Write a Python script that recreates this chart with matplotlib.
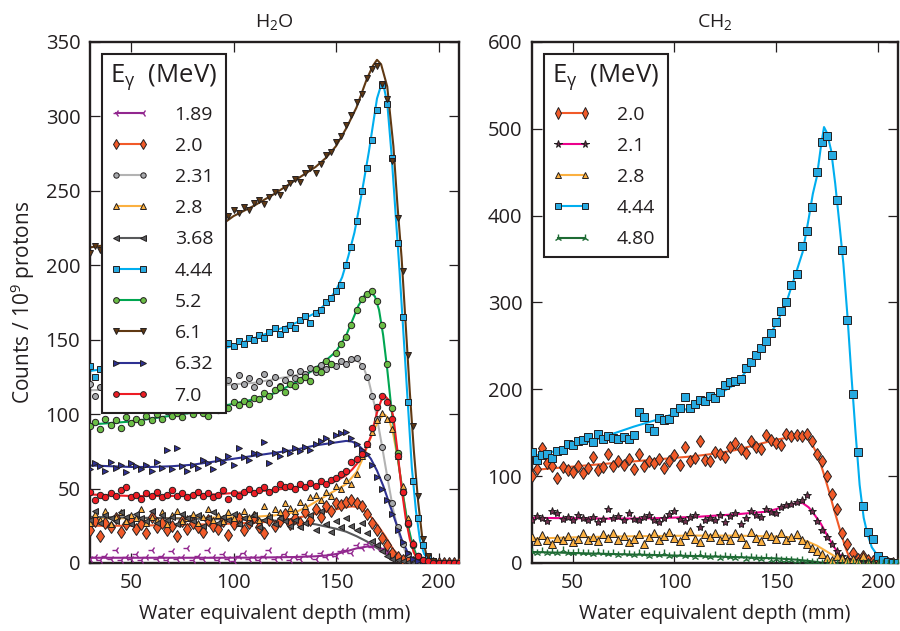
import matplotlib
matplotlib.use("Agg")
import matplotlib.pyplot as plt
from matplotlib.lines import Line2D
import numpy as np

plt.rcParams['font.family'] = ['Open Sans', 'DejaVu Sans']
plt.rcParams['mathtext.fontset'] = 'custom'
plt.rcParams['mathtext.rm'] = 'Open Sans'
plt.rcParams['mathtext.it'] = 'Open Sans'
plt.rcParams['mathtext.default'] = 'regular'

INK = '#231f20'

# Depth grid of the measured points (mm)
depth = np.arange(30, 210.1, 2.5)

# ---------------- H2O: measured counts per 10^9 protons ----------------
h2o_189 = [3, 4, 2, 5, 3, 9, 2, 4, 3, 6,
           2, 4, 9, 3, 5, 2, 8, 3, 4, 10,
           2, 5, 3, 9, 4, 2, 6, 3, 1, 5,
           7, 3, 4, 2, 5, 9, 3, 4, 6, 2,
           4, 3, 6, 5, 3, 7, 4, 6, 5, 8,
           9, 7, 12, 10, 13, 11, 12, 9, 7, 5,
           3, 2, 1, 0.5, 0, 0, 0, 0, 0, 0,
           0, 0, 0]
h2o_20 = [22, 28, 18, 27, 24, 30, 21, 26, 29, 23,
          26, 20, 31, 24, 27, 22, 25, 18, 28, 23,
          27, 24, 21, 29, 25, 23, 28, 19, 26, 30,
          22, 27, 31, 24, 20, 29, 25, 28, 33, 26,
          30, 27, 34, 29, 36, 31, 38, 35, 40, 39,
          41, 42, 40, 38, 33, 27, 22, 17, 12, 7,
          4, 2, 1, 0.5, 0, 0, 0, 0, 0, 0,
          0, 0, 0]
h2o_231 = [120, 112, 118, 123, 115, 119, 114, 121, 117, 124,
           113, 120, 116, 122, 118, 115, 121, 119, 124, 117,
           122, 116, 120, 125, 118, 121, 117, 123, 119, 126,
           120, 124, 118, 122, 127, 121, 125, 119, 123, 128,
           124, 129, 127, 131, 128, 133, 130, 134, 132, 136,
           134, 137, 138, 132, 125, 112, 97, 78, 58, 40,
           24, 13, 6, 2, 1, 0, 0, 0, 0, 0,
           0, 0, 0]
h2o_28 = [27, 33, 29, 35, 26, 31, 34, 28, 32, 30,
          36, 27, 31, 29, 34, 26, 32, 35, 28, 30,
          33, 27, 31, 36, 29, 32, 28, 34, 30, 27,
          35, 31, 33, 29, 38, 32, 36, 34, 40, 37,
          35, 41, 38, 44, 46, 42, 48, 45, 52, 50,
          56, 53, 60, 72, 80, 88, 96, 101, 97, 90,
          72, 52, 30, 14, 5, 1, 0, 0, 0, 0,
          0, 0, 0]
h2o_368 = [29, 35, 27, 32, 30, 28, 34, 31, 26, 33,
           30, 28, 35, 27, 32, 29, 31, 26, 33, 30,
           28, 32, 25, 30, 34, 27, 31, 29, 33, 26,
           30, 27, 32, 24, 29, 31, 26, 30, 28, 25,
           29, 24, 27, 32, 22, 35, 26, 21, 28, 24,
           30, 25, 22, 27, 20, 15, 12, 8, 5, 3,
           2, 1, 0.5, 0, 0, 0, 0, 0, 0, 0,
           0, 0, 0]
h2o_444 = [132, 125, 130, 127, 135, 128, 133, 130, 136, 131,
           134, 137, 133, 139, 135, 140, 136, 138, 141, 137,
           140, 143, 139, 141, 145, 142, 144, 148, 146, 149,
           147, 151, 150, 153, 151, 155, 158, 154, 157, 160,
           158, 163, 166, 161, 168, 170, 175, 178, 183, 187,
           200, 212, 230, 250, 265, 284, 304, 321, 308, 272,
           215, 165, 108, 55, 30, 12, 4, 1, 0, 0,
           0, 0, 0]
h2o_52 = [92, 95, 90, 97, 93, 96, 91, 98, 94, 97,
          95, 99, 96, 100, 97, 102, 99, 101, 98, 103,
          100, 104, 101, 99, 105, 103, 107, 104, 108, 106,
          109, 107, 111, 110, 114, 112, 116, 118, 115, 120,
          119, 123, 125, 122, 130, 128, 136, 134, 141, 147,
          152, 160, 170, 177, 181, 183, 176, 160, 134, 104,
          74, 48, 26, 12, 5, 2, 1, 0, 0, 0,
          0, 0, 0]
h2o_61 = [208, 213, 210, 216, 211, 214, 218, 213, 217, 215,
          219, 216, 220, 218, 222, 219, 223, 221, 225, 222,
          224, 227, 223, 226, 229, 222, 228, 233, 237, 235,
          239, 237, 242, 244, 241, 246, 249, 247, 252, 255,
          258, 256, 262, 265, 262, 268, 274, 276, 283, 287,
          294, 301, 310, 315, 326, 332, 334, 322, 312, 270,
          232, 196, 140, 92, 45, 16, 5, 1, 0, 0,
          0, 0, 0]
h2o_632 = [63, 67, 65, 62, 68, 64, 66, 61, 67, 65,
           63, 66, 62, 68, 64, 76, 63, 77, 65, 62,
           66, 64, 69, 67, 63, 70, 68, 72, 66, 77,
           71, 69, 74, 73, 81, 67, 74, 72, 76, 74,
           77, 75, 78, 76, 80, 82, 84, 81, 86, 87,
           88, 84, 80, 76, 73, 66, 58, 50, 42, 33,
           22, 14, 7, 3, 1, 0, 0, 0, 0, 0,
           0, 0, 0]
h2o_70 = [48, 42, 46, 44, 47, 45, 49, 51, 44, 46,
          43, 47, 45, 48, 44, 46, 49, 45, 47, 44,
          46, 48, 45, 47, 44, 46, 49, 43, 47, 45,
          48, 50, 47, 49, 51, 48, 50, 53, 51, 52,
          50, 53, 51, 54, 52, 55, 53, 56, 57, 60,
          62, 68, 70, 73, 80, 91, 105, 112, 108, 97,
          72, 48, 27, 13, 5, 2, 1, 0, 0, 0,
          0, 0, 0]

# ---------------- H2O: fitted curves ----------------
fit_189_x = [30, 50, 70, 90, 110, 130, 140, 145, 150, 155, 160, 165, 168, 171, 174, 177, 180, 183, 186, 190, 210]
fit_189_y = [3.5, 3.5, 3.5, 3.5, 3.6, 4.0, 4.5, 5.0, 6.0, 7.8, 9.8, 11.0, 11.2, 10.5, 8.5, 6.0, 3.5, 1.6, 0.5, 0, 0]
fit_20_x = [30, 50, 70, 90, 110, 120, 130, 140, 150, 155, 158, 161, 164, 167, 170, 174, 178, 182, 186, 190, 210]
fit_20_y = [25, 25, 25.5, 26, 27, 28, 30, 33, 36, 37.5, 38, 37.5, 35, 31, 26, 18, 9, 3, 0.5, 0, 0]
fit_231_x = [30, 50, 70, 90, 110, 130, 140, 150, 155, 160, 163, 166, 169, 172, 175, 178, 181, 184, 187, 190, 210]
fit_231_y = [116, 117, 118, 119, 121, 126, 129, 133, 135, 136, 133, 122, 105, 82, 58, 35, 18, 7, 2, 0, 0]
fit_28_x = [30, 50, 70, 90, 110, 120, 130, 135, 140, 145, 150, 155, 160, 163, 166, 169, 172, 174, 176, 178,
            180, 182, 184, 186, 188, 190, 210]
fit_28_y = [30, 30, 30, 30.5, 31, 32, 34, 37, 41, 45, 49, 53, 61, 70, 81, 91, 98, 99.5, 96, 86,
            71, 53, 34, 18, 7, 1, 0]
fit_368_x = [30, 50, 70, 90, 110, 120, 130, 140, 150, 155, 160, 165, 170, 175, 180, 185, 190, 210]
fit_368_y = [31, 30.5, 30, 29.5, 29, 28.5, 27.5, 26, 23, 21, 18, 14.5, 10, 6, 3, 1, 0, 0]
fit_444_x = [30, 40, 50, 60, 70, 80, 90, 100, 110, 120, 130, 140, 145, 150, 153, 156, 159, 162, 164, 166,
             168, 170, 172, 173, 175, 177, 179, 181, 183, 185, 187, 189, 191, 193, 196, 200, 210]
fit_444_y = [129, 131, 133, 135, 137, 139, 142, 146, 151, 156, 161, 168, 174, 183, 192, 206, 222, 244, 260, 276,
             294, 312, 321, 322, 309, 276, 236, 196, 152, 108, 64, 35, 15, 6, 1, 0, 0]
fit_52_x = [30, 40, 50, 60, 70, 80, 90, 100, 110, 120, 130, 135, 140, 145, 150, 155, 158, 161, 164, 167,
            169, 171, 173, 175, 177, 179, 181, 183, 185, 187, 189, 191, 195, 210]
fit_52_y = [93, 94, 95, 97, 99, 101, 104, 107, 110, 114, 121, 126, 131, 136, 142, 153, 163, 173, 180, 182,
            179, 170, 153, 130, 104, 82, 62, 43, 26, 14, 6, 2, 0, 0]
fit_61_x = [30, 40, 50, 60, 70, 80, 90, 95, 100, 110, 120, 130, 140, 145, 150, 155, 160, 165, 168, 170,
            172, 175, 178, 180, 182, 184, 186, 188, 190, 192, 194, 196, 200, 210]
fit_61_y = [212, 214, 216, 218, 220, 222, 225, 228, 233, 240, 248, 257, 266, 272, 280, 292, 306, 325, 334, 338,
            335, 320, 280, 240, 205, 160, 115, 75, 42, 18, 6, 1, 0, 0]
fit_632_x = [30, 40, 50, 60, 70, 80, 90, 100, 110, 120, 130, 140, 150, 155, 158, 161, 164, 167, 170, 173,
             176, 179, 182, 185, 188, 191, 210]
fit_632_y = [65.5, 65, 64.5, 64.5, 65, 66, 68, 70, 72, 74, 76, 79, 81, 82, 81.5, 79, 75, 70, 62, 52,
             40, 28, 16, 7, 2, 0, 0]
fit_70_x = [30, 40, 50, 60, 70, 80, 90, 100, 110, 120, 130, 140, 145, 150, 155, 158, 161, 164, 167, 170,
            172, 174, 176, 178, 180, 182, 184, 186, 188, 190, 192, 210]
fit_70_y = [46, 45.5, 45, 45, 45, 45.5, 46, 47, 48, 49, 51, 52.5, 53.5, 55, 59, 63, 68, 75, 85, 101,
            109, 112, 109, 98, 75, 50, 30, 16, 7, 2, 0, 0]

# ---------------- CH2: measured counts per 10^9 protons ----------------
ch2_20 = [100, 108, 132, 115, 112, 98, 110, 107, 105, 112,
          104, 109, 122, 107, 110, 126, 112, 118, 113, 120,
          108, 125, 112, 118, 115, 120, 109, 117, 124, 113,
          134, 118, 121, 140, 119, 117, 128, 126, 122, 133,
          138, 131, 127, 140, 133, 131, 147, 142, 138, 136,
          148, 146, 147, 146, 148, 140, 125, 118, 100, 80,
          62, 35, 22, 12, 5, 8, 4, 2, 1, 0,
          0, 0, 0]
ch2_21 = [50, 54, 52, 48, 60, 57, 51, 53, 49, 55,
          52, 50, 53, 47, 51, 62, 52, 54, 50, 57,
          51, 49, 53, 55, 50, 47, 52, 56, 60, 51,
          48, 53, 55, 42, 50, 52, 49, 55, 47, 54,
          57, 45, 52, 60, 55, 53, 62, 59, 58, 64,
          67, 68, 70, 72, 78, 60, 48, 38, 30, 22,
          14, 8, 5, 3, 2, 1, 1, 0, 0, 0,
          0, 0, 0]
ch2_28 = [30, 25, 32, 27, 22, 29, 26, 31, 24, 28,
          34, 27, 30, 25, 33, 29, 35, 26, 31, 24,
          28, 33, 22, 30, 35, 27, 31, 36, 29, 25,
          32, 37, 28, 24, 33, 30, 35, 27, 31, 26,
          34, 30, 22, 36, 29, 25, 33, 31, 28, 34,
          27, 30, 33, 26, 22, 17, 14, 10, 6, 4,
          8, 6, 3, 5, 2, 8, 1, 0, 0, 0,
          0, 0, 0]
ch2_444 = [128, 119, 124, 125, 121, 129, 130, 137, 136, 140,
           142, 145, 139, 148, 143, 146, 144, 143, 145, 143,
           147, 174, 168, 156, 152, 167, 165, 166, 174, 179,
           191, 179, 183, 188, 186, 192, 190, 197, 205, 208,
           210, 212, 225, 232, 240, 248, 256, 265, 278, 290,
           301, 320, 333, 365, 382, 410, 450, 485, 492, 470,
           418, 360, 280, 195, 128, 66, 36, 28, 8, 3,
           1, 0, 0]
ch2_480 = [13, 12, 14, 11, 13, 12, 15, 11, 12, 13,
           11, 12, 10, 13, 11, 10, 12, 9, 11, 10,
           9, 11, 10, 8, 10, 9, 11, 8, 9, 10,
           8, 9, 7, 10, 8, 7, 9, 6, 8, 7,
           6, 8, 5, 7, 6, 5, 7, 4, 5, 4,
           3, 4, 2, 3, 1, 1, 1, 0, 0, 0,
           0, 0, 0, 0, 0, 0, 0, 0, 0, 0,
           0, 0, 0]

# ---------------- CH2: fitted curves ----------------
ch_20_x = [30, 40, 50, 60, 70, 80, 90, 100, 110, 120, 130, 140, 150, 155, 160, 164, 166, 168, 170, 172,
           174, 176, 178, 180, 182, 184, 186, 188, 210]
ch_20_y = [107, 109, 111, 113, 115, 117, 119, 121, 123, 126, 130, 136, 142, 144, 145, 145, 142, 135, 126, 113,
           98, 82, 65, 49, 33, 18, 6, 0, 0]
ch_21_x = [30, 50, 70, 90, 110, 130, 140, 145, 150, 155, 160, 163, 166, 169, 172, 175, 178, 181, 184, 187, 210]
ch_21_y = [52, 51.5, 51, 51.5, 53, 56, 58, 59, 62, 66, 69, 69, 64, 55, 45, 32, 20, 10, 3, 0, 0]
ch_28_x = [30, 50, 70, 90, 110, 130, 150, 155, 160, 165, 170, 175, 180, 185, 210]
ch_28_y = [28, 29.5, 30.5, 31, 31.5, 31.5, 30.5, 30, 28.5, 25, 20, 13, 6, 0, 0]
ch_444_x = [30, 40, 50, 60, 70, 80, 90, 100, 110, 120, 125, 130, 135, 140, 145, 150, 155, 160, 163, 166,
            168, 170, 172, 173.5, 175, 177, 179, 181, 183, 185, 187, 189, 191, 193, 195, 197, 200, 203, 206, 210]
ch_444_y = [123, 128, 134, 141, 149, 157, 164, 172, 181, 192, 199, 206, 220, 238, 256, 275, 300, 336, 358, 397,
            425, 445, 480, 502, 495, 475, 437, 392, 345, 285, 215, 150, 90, 52, 32, 18, 8, 2, 0, 0]
ch_480_x = [30, 50, 70, 90, 110, 130, 150, 160, 165, 170, 173, 210]
ch_480_y = [12.7, 11.5, 10.3, 9.2, 8.0, 6.8, 5.3, 3.8, 2.6, 1.2, 0, 0]

h2o_labels = ['1.89', '2.0', '2.31', '2.8', '3.68', '4.44', '5.2', '6.1', '6.32', '7.0']
ch2_labels = ['2.0', '2.1', '2.8', '4.44', '4.80']

# (points, fit x, fit y, line colour, marker, face colour, marker size)
h2o_series = [
    (h2o_189, fit_189_x, fit_189_y, '#92278f', '3', '#92278f', 5.5),
    (h2o_20, fit_20_x, fit_20_y, '#f15a29', 'd', '#f15a29', 6),
    (h2o_231, fit_231_x, fit_231_y, '#b3b3b3', 'o', '#a7a9ac', 4.3),
    (h2o_28, fit_28_x, fit_28_y, '#fbb040', '^', '#fbb040', 5),
    (h2o_368, fit_368_x, fit_368_y, '#58595b', '<', '#58595b', 5),
    (h2o_444, fit_444_x, fit_444_y, '#00aeef', 's', '#27aae1', 4.6),
    (h2o_52, fit_52_x, fit_52_y, '#00a651', 'o', '#6abd45', 4.6),
    (h2o_61, fit_61_x, fit_61_y, '#603913', 'v', '#603913', 5),
    (h2o_632, fit_632_x, fit_632_y, '#2e3192', '>', '#2e3192', 5),
    (h2o_70, fit_70_x, fit_70_y, '#ed1c24', 'o', '#ed1c24', 4.6),
]
ch2_series = [
    (ch2_20, ch_20_x, ch_20_y, '#f15a29', 'd', '#f15a29', 6.5),
    (ch2_21, ch_21_x, ch_21_y, '#ec008c', '*', '#6d2f4c', 6),
    (ch2_28, ch_28_x, ch_28_y, '#fbb040', '^', '#fbb040', 5.5),
    (ch2_444, ch_444_x, ch_444_y, '#00aeef', 's', '#27aae1', 5.5),
    (ch2_480, ch_480_x, ch_480_y, '#1e6b34', '2', '#1e6b34', 6),
]


def draw(ax, series, labels):
    handles = []
    for (pts, fx, fy, lc, mk, fc, ms), lab in zip(series, labels):
        ax.plot(fx, fy, color=lc, lw=1.5, zorder=2)
        if mk in ('2', '3'):
            kw = dict(mfc=fc, mec=fc, mew=1.0)
        else:
            kw = dict(mfc=fc, mec=INK, mew=0.7)
        ax.plot(depth, pts, ls='none', marker=mk, ms=ms, zorder=3, **kw)
        handles.append(Line2D([], [], color=lc, lw=1.5, marker=mk,
                              ms=ms * 0.9, **kw))
    leg = ax.legend(handles, labels, title=r'E$_{\gamma}$  (MeV)', loc='upper left',
                    numpoints=2, handlelength=2.0, handletextpad=1.3,
                    labelspacing=0.68, borderaxespad=0.6, borderpad=0.45,
                    fancybox=False, framealpha=1, edgecolor=INK,
                    fontsize=14, title_fontsize=18.5, alignment='left')
    leg.get_frame().set_linewidth(1.5)
    for t in leg.get_texts():
        t.set_color(INK)
    leg.get_title().set_color(INK)


def style(ax, ymax, ystep, title):
    ax.set_xlim(30, 210)
    ax.set_ylim(0, ymax)
    ax.set_xticks([50, 100, 150, 200])
    ax.set_yticks(np.arange(0, ymax + 1, ystep))
    ax.tick_params(direction='in', length=7, width=0.9, top=True, right=True,
                   labelsize=14.5, pad=7, colors=INK)
    for s in ax.spines.values():
        s.set_linewidth(1.7)
        s.set_color(INK)
    ax.set_xlabel('Water equivalent depth (mm)', fontsize=14.3, color=INK, labelpad=8)
    ax.set_title(title, fontsize=14, color=INK, pad=11)


fig = plt.figure(figsize=(9, 6.31), dpi=100)
ax1 = fig.add_axes([0.1, 0.1078, 0.41, 0.8257])
ax2 = fig.add_axes([0.5911, 0.1078, 0.407, 0.8257])

draw(ax1, h2o_series, h2o_labels)
draw(ax2, ch2_series, ch2_labels)
style(ax1, 350, 50, r'H$_2$O')
style(ax2, 600, 100, r'CH$_2$')
ax1.set_ylabel(r'Counts / 10$^9$ protons', fontsize=15, color=INK, labelpad=6)

fig.savefig('out.png', dpi=100)
